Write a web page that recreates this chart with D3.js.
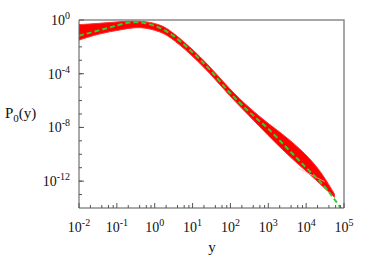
<!DOCTYPE html>
<html>
<head>
<meta charset="utf-8">
<script src="https://cdn.jsdelivr.net/npm/d3@7"></script>
<style>
	body { margin: 0; background: #fff; }
	text { font-family: "Liberation Serif", "DejaVu Serif", serif; fill: #111; }
</style>
</head>
<body>
<div id="chart"></div>
<script>
// fitted curve (green dashed)
var fitX = [0.01, 0.025, 0.063, 0.16, 0.32, 0.56, 1, 1.6, 2.5, 8.5, 29, 95, 316, 1000, 3160, 1e4, 3.16e4, 1e5];
var fitP = [6.8e-2, 0.135, 0.27, 0.55, 0.69, 0.58, 0.36, 0.21, 0.10, 5.9e-3, 1.9e-4, 4.0e-6, 1.4e-7, 7.9e-9, 2.8e-10, 1.0e-11, 3.5e-13, 4.5e-15];

// simulated data (red cloud): envelope of the points
var dataX = [0.01, 0.035, 0.12, 0.41, 1.38, 2.5, 8.5, 29, 95, 316, 955, 3715, 1.26e4, 2.75e4, 5.6e4];
var dataHi = [0.45, 0.56, 0.76, 0.95, 0.48, 0.18, 1.05e-2, 3.4e-4, 7.1e-6, 2.8e-7, 2.1e-8, 1.26e-9, 5.0e-11, 3.2e-12, 1.1e-13];
var dataLo = [0.032, 0.10, 0.18, 0.35, 0.14, 0.057, 3.3e-3, 1.07e-4, 2.2e-6, 7.1e-8, 2.75e-9, 6.3e-11, 3.2e-12, 4.0e-13, 6.3e-14];

// faint gap inside the tail of the cloud
var gapX = [6200, 3.1e4];
var gapP = [9.1e-12, 9.1e-13];

// tick labels (exponents of ten)
var xTickExp = [-2, -1, 0, 1, 2, 3, 4, 5];
var yTickExp = [0, -4, -8, -12];
var minorMult = [2, 4, 6, 8];

var width = 374, height = 262;
var margin = {top: 20, right: 30, bottom: 54, left: 79};

var svg = d3.select("#chart")
	.append("svg")
	.attr("width", width)
	.attr("height", height);

var x = d3.scaleLog().domain([1e-2, 1e5]).range([margin.left, width - margin.right]);
var y = d3.scaleLog().domain([1, 1e-14]).range([margin.top, height - margin.bottom]);

svg.append("clipPath").attr("id", "clip")
	.append("rect")
	.attr("x", x.range()[0]).attr("y", y.range()[0])
	.attr("width", x.range()[1] - x.range()[0])
	.attr("height", y.range()[1] - y.range()[0]);

var plot = svg.append("g").attr("clip-path", "url(#clip)");

// red data band
var band = dataX.map(function(d, i) { return {x: d, lo: dataLo[i], hi: dataHi[i]}; });
plot.append("path")
	.datum(band)
	.attr("d", d3.area()
		.x(function(d) { return x(d.x); })
		.y0(function(d) { return y(d.lo); })
		.y1(function(d) { return y(d.hi); })
		.curve(d3.curveBasis))
	.attr("fill", "#ff0000")
	.attr("stroke", "#ff3030")
	.attr("stroke-width", 1)
	.attr("stroke-linejoin", "round");

plot.append("path")
	.datum(gapX.map(function(d, i) { return {x: d, p: gapP[i]}; }))
	.attr("d", d3.line()
		.x(function(d) { return x(d.x); })
		.y(function(d) { return y(d.p); }))
	.attr("fill", "none")
	.attr("stroke", "#ffb0b0")
	.attr("stroke-width", 0.8);

// green dashed fit
var fit = fitX.map(function(d, i) { return {x: d, p: fitP[i]}; });
plot.append("path")
	.datum(fit)
	.attr("d", d3.line()
		.x(function(d) { return x(d.x); })
		.y(function(d) { return y(d.p); })
		.curve(d3.curveMonotoneX))
	.attr("fill", "none")
	.attr("stroke", "#2fd02f")
	.attr("stroke-width", 2)
	.attr("stroke-dasharray", "5,3");

// frame
var x0 = x.range()[0], x1 = x.range()[1], y0 = y.range()[0], y1 = y.range()[1];
svg.append("path")
	.attr("d", "M" + x0 + "," + y0 + "H" + x1 + "V" + y1)
	.attr("fill", "none").attr("stroke", "#8a8a8a").attr("stroke-width", 1.5);
svg.append("path")
	.attr("d", "M" + x0 + "," + y0 + "V" + y1 + "H" + x1)
	.attr("fill", "none").attr("stroke", "#555").attr("stroke-width", 1);

// x ticks
var xMajor = xTickExp.map(function(e) { return Math.pow(10, e); });
var xMinor = [];
xTickExp.slice(0, -1).forEach(function(e) {
	minorMult.forEach(function(m) { xMinor.push(m * Math.pow(10, e)); });
});
svg.selectAll(".xmin").data(xMinor).enter().append("line")
	.attr("x1", function(d) { return x(d); }).attr("x2", function(d) { return x(d); })
	.attr("y1", y1).attr("y2", y1 - 3)
	.attr("stroke", "#555").attr("stroke-width", 1);
svg.selectAll(".xmaj").data(xMajor).enter().append("line")
	.attr("x1", function(d) { return x(d); }).attr("x2", function(d) { return x(d); })
	.attr("y1", y1).attr("y2", y1 - 5)
	.attr("stroke", "#555").attr("stroke-width", 1);

var xl = svg.selectAll(".xlab").data(xTickExp).enter().append("text")
	.attr("x", function(d) { return x(Math.pow(10, d)); })
	.attr("y", 232)
	.attr("text-anchor", "middle")
	.style("font-size", "14px");
xl.append("tspan").text("10");
xl.append("tspan").attr("dy", -6).style("font-size", "10px").text(function(d) { return d; });

// y ticks
var yMinor = d3.range(-1, -14, -1).map(function(e) { return Math.pow(10, e); });
svg.selectAll(".ymin").data(yMinor).enter().append("line")
	.attr("x1", x0).attr("x2", x0 + 3)
	.attr("y1", function(d) { return y(d); }).attr("y2", function(d) { return y(d); })
	.attr("stroke", "#555").attr("stroke-width", 1);
svg.selectAll(".ymaj").data(yTickExp).enter().append("line")
	.attr("x1", x0).attr("x2", x0 + 5)
	.attr("y1", function(d) { return y(Math.pow(10, d)); }).attr("y2", function(d) { return y(Math.pow(10, d)); })
	.attr("stroke", "#555").attr("stroke-width", 1);

var yl = svg.selectAll(".ylab").data(yTickExp).enter().append("text")
	.attr("x", 70)
	.attr("y", function(d) { return y(Math.pow(10, d)) + 5; })
	.attr("text-anchor", "end")
	.style("font-size", "14px");
yl.append("tspan").text("10");
yl.append("tspan").attr("dy", -6).style("font-size", "10px").text(function(d) { return d; });

// axis titles
var pl = svg.append("text")
	.attr("x", 5).attr("y", 118)
	.style("font-size", "15px");
pl.append("tspan").text("P");
pl.append("tspan").attr("dy", 4).style("font-size", "11px").text("0");
pl.append("tspan").attr("dy", -4).text("(y)");

svg.append("text")
	.attr("x", 212).attr("y", 252)
	.attr("text-anchor", "middle")
	.style("font-size", "15px")
	.text("y");
</script>
</body>
</html>
